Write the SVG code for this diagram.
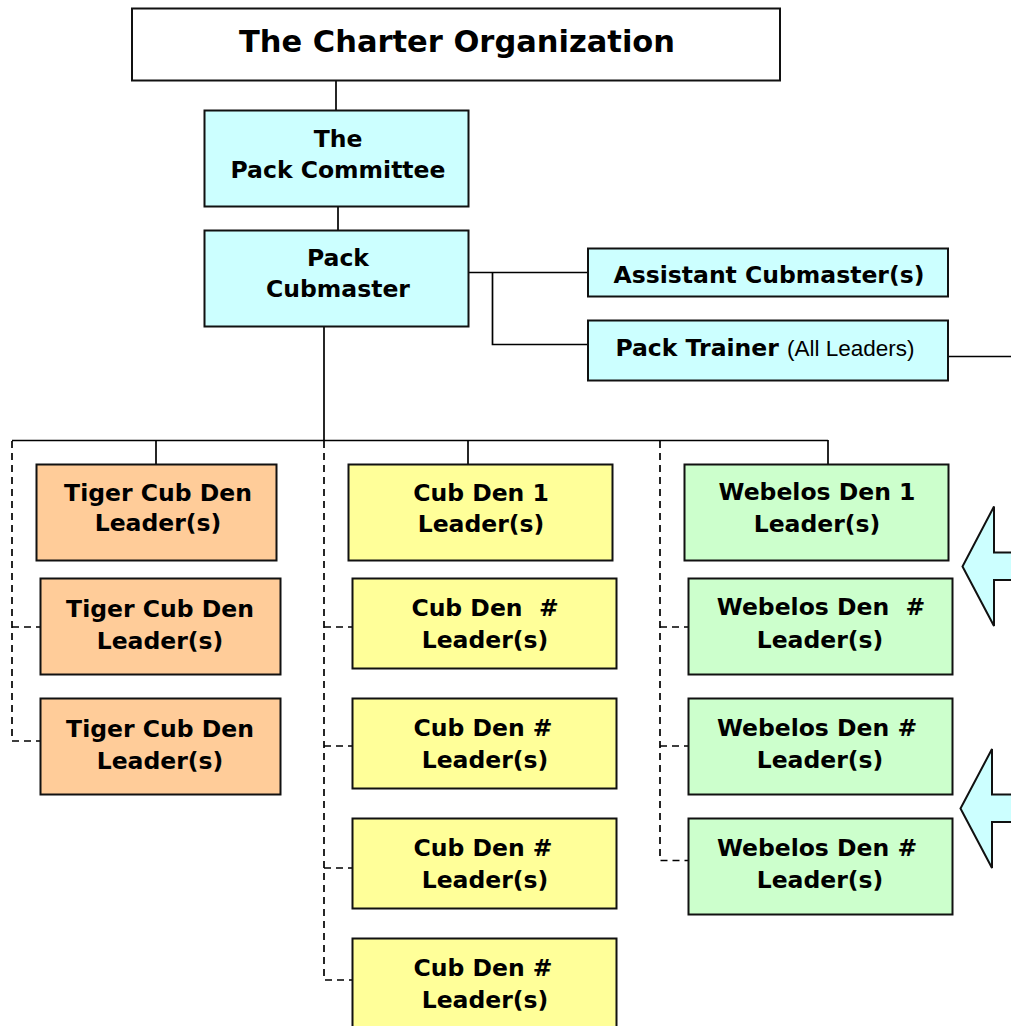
<svg xmlns="http://www.w3.org/2000/svg" width="1011" height="1026" viewBox="0 0 1011 1026">
<style>
.box{stroke:#111;stroke-width:2}
.white{fill:#ffffff}
.cyan{fill:#ccffff}
.orange{fill:#ffcc99}
.yellow{fill:#ffff99}
.green{fill:#ccffcc}
text{font-family:"DejaVu Sans","Liberation Sans",sans-serif;font-weight:bold;font-size:23.5px;fill:#000;text-anchor:middle;white-space:pre}
.title{font-size:31px}
.reg{font-family:"Liberation Sans","DejaVu Sans",sans-serif;font-weight:normal;font-size:22.5px}
.solid{fill:none;stroke:#000;stroke-width:1.7}
.dash{fill:none;stroke:#000;stroke-width:1.7;stroke-dasharray:7 5}
.arrow{fill:#ccffff;stroke:#111;stroke-width:2;stroke-linejoin:miter}
</style>
<rect width="1011" height="1026" fill="#ffffff"/>
<g id="connectors">
<path class="solid" d="M336 80V110"/>
<path class="solid" d="M338 207V230"/>
<path class="solid" d="M324 327V440"/>
<path class="solid" d="M468 272.5H588"/>
<path class="solid" d="M492.5 272.5V344.5H588"/>
<path class="solid" d="M948 356.5H1011"/>
<path class="solid" d="M12 440.5H828"/>
<path class="solid" d="M156 440V464"/>
<path class="solid" d="M468 440V464"/>
<path class="solid" d="M828 440V464"/>
<path class="dash" d="M12 441V741H40"/>
<path class="dash" d="M12 627H40"/>
<path class="dash" d="M324 441V980H352"/>
<path class="dash" d="M324 627H352"/>
<path class="dash" d="M324 746H352"/>
<path class="dash" d="M324 868H352"/>
<path class="dash" d="M660 441V860.5H688"/>
<path class="dash" d="M660 627H688"/>
<path class="dash" d="M660 746H688"/>
</g>
<g id="charter">
<rect class="box white" x="132" y="8.5" width="648" height="72"/>
<text class="title" x="457" y="52" textLength="436" lengthAdjust="spacingAndGlyphs">The Charter Organization</text>
</g>
<g id="committee">
<rect class="box cyan" x="204.5" y="110.5" width="264" height="96"/>
<text x="338" y="147">The</text>
<text x="338" y="178">Pack Committee</text>
</g>
<g id="cubmaster">
<rect class="box cyan" x="204.5" y="230.5" width="264" height="96"/>
<text x="338" y="266">Pack</text>
<text x="338" y="297">Cubmaster</text>
</g>
<g id="assistant">
<rect class="box cyan" x="588" y="248.5" width="360" height="48"/>
<text x="769" y="283">Assistant Cubmaster(s)</text>
</g>
<g id="trainer">
<rect class="box cyan" x="588" y="320.5" width="360" height="60"/>
<text x="765" y="356">Pack Trainer <tspan class="reg">(All Leaders)</tspan></text>
</g>
<g id="tiger1">
<rect class="box orange" x="36.5" y="464.5" width="240" height="96"/>
<text x="158" y="500.5">Tiger Cub Den</text>
<text x="158" y="531">Leader(s)</text>
</g>
<g id="tiger2">
<rect class="box orange" x="40.5" y="578.5" width="240" height="96"/>
<text x="160" y="617">Tiger Cub Den</text>
<text x="160" y="648.5">Leader(s)</text>
</g>
<g id="tiger3">
<rect class="box orange" x="40.5" y="698.5" width="240" height="96"/>
<text x="160" y="737">Tiger Cub Den</text>
<text x="160" y="768.5">Leader(s)</text>
</g>
<g id="cub1">
<rect class="box yellow" x="348.5" y="464.5" width="264" height="96"/>
<text x="481" y="500.5">Cub Den 1</text>
<text x="481" y="532">Leader(s)</text>
</g>
<g id="cub2">
<rect class="box yellow" x="352.5" y="578.5" width="264" height="90"/>
<text x="485" y="616">Cub Den  #</text>
<text x="485" y="648">Leader(s)</text>
</g>
<g id="cub3">
<rect class="box yellow" x="352.5" y="698.5" width="264" height="90"/>
<text x="483" y="736">Cub Den #</text>
<text x="485" y="768">Leader(s)</text>
</g>
<g id="cub4">
<rect class="box yellow" x="352.5" y="818.5" width="264" height="90"/>
<text x="483" y="856">Cub Den #</text>
<text x="485" y="888">Leader(s)</text>
</g>
<g id="cub5">
<rect class="box yellow" x="352.5" y="938.5" width="264" height="92"/>
<text x="483" y="976">Cub Den #</text>
<text x="485" y="1008">Leader(s)</text>
</g>
<g id="webelos1">
<rect class="box green" x="684.5" y="464.5" width="264" height="96"/>
<text x="817" y="500">Webelos Den 1</text>
<text x="817" y="531.5">Leader(s)</text>
</g>
<g id="webelos2">
<rect class="box green" x="688.5" y="578.5" width="264" height="96"/>
<text x="821" y="615">Webelos Den  #</text>
<text x="820" y="648">Leader(s)</text>
</g>
<g id="webelos3">
<rect class="box green" x="688.5" y="698.5" width="264" height="96"/>
<text x="817" y="736">Webelos Den #</text>
<text x="820" y="768">Leader(s)</text>
</g>
<g id="webelos4">
<rect class="box green" x="688.5" y="818.5" width="264" height="96"/>
<text x="817" y="856">Webelos Den #</text>
<text x="820" y="888">Leader(s)</text>
</g>
<g id="arrow1">
<path class="arrow" d="M1013 552.5H994V506.5L962.5 566.5L994 626V580H1013"/>
</g>
<g id="arrow2">
<path class="arrow" d="M1013 794.5H992V749L960.5 808.5L992 868V822H1013"/>
</g>
</svg>
